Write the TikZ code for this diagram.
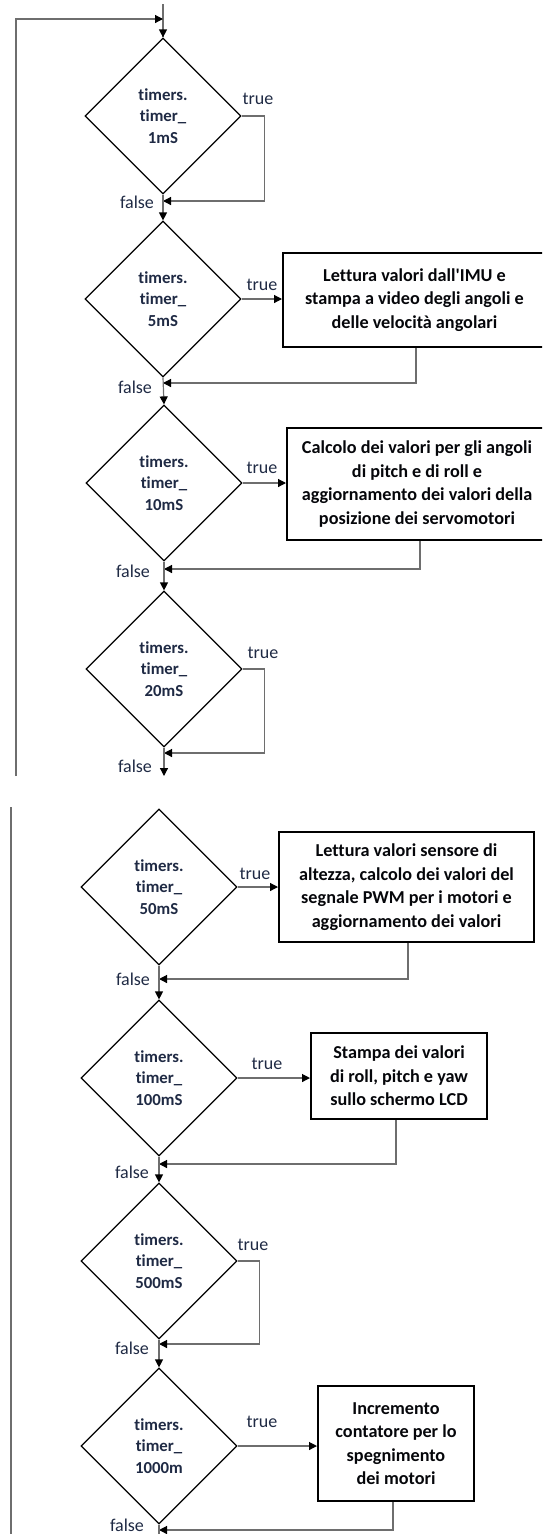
\documentclass[tikz,border=0pt]{standalone}
\usepackage{fontspec}
\setmainfont{Carlito}[Ligatures={TeXOff,CommonOff}]
\usetikzlibrary{shapes.geometric,arrows.meta}
\definecolor{txt}{HTML}{1F2A44}
\definecolor{lin}{HTML}{6E6E6E}
\tikzset{
  dec/.style={shape=diamond,draw=black,line width=1.2pt,minimum width=156pt,minimum height=156pt,inner sep=0pt,align=center,text=txt,font=\fontsize{16.8}{21.5}\selectfont\bfseries},
  act/.style={shape=rectangle,draw=black,line width=2pt,inner sep=0pt,align=center,text=black!85!txt,font=\fontsize{18.2}{23.5}\selectfont\bfseries},
  lbl/.style={inner sep=0pt,text=txt,font=\fontsize{18}{20}\selectfont},
  conn/.style={draw=lin,line width=1.2pt,-{Triangle[length=8pt,width=8pt,color=black]}},
  plain/.style={draw=lin,line width=1.2pt}
}
\begin{document}
\begin{tikzpicture}[x=1pt,y=-1pt]
\useasboundingbox (0,0) rectangle (542,1534);
\clip (0,0) rectangle (542,1534);
% ---------- top panel ----------
\node[dec] (d1) at (163,116) {timers.\\timer\_\\1mS};
\node[dec] (d2) at (163,299) {timers.\\timer\_\\5mS};
\node[dec] (d3) at (164,483) {timers.\\timer\_\\10mS};
\node[dec] (d4) at (164,669) {timers.\\timer\_\\20mS};
\node[act,minimum width=263pt,minimum height=94pt] (b1) at (414.5,300) {Lettura valori dall'IMU e\\stampa a video degli angoli e\\delle velocità angolari};
\node[act,minimum width=260pt,minimum height=112pt] (b2) at (417,484) {Calcolo dei valori per gli angoli\\di pitch e di roll e\\aggiornamento dei valori della\\posizione dei servomotori};
\coordinate (top) at (163,4);
\coordinate (j0) at (163,19);
\coordinate (L1) at (16,776);
\coordinate (j1) at (163,201);
\coordinate (j2) at (163,383);
\coordinate (j3) at (164,569);
\coordinate (j4) at (164,753);
\coordinate (e1) at (164,776);
\coordinate (x1) at (416,0);
\coordinate (x2) at (420,0);
\draw[plain] (top) -- (d1.north);
\draw[conn] (j0) -- (d1.north);
\draw[conn] (L1) |- (j0);
\draw[conn] (d1.east) -- ++(23,0) |- (j1);
\draw[conn] (d1.south) -- (d2.north);
\draw[conn] (d2.east) -- (d2.east -| b1.west);
\draw[conn] (b1.south -| x1) |- (j2);
\draw[conn] (d2.south) -- (d3.north);
\draw[conn] (d3.east) -- (d3.east -| b2.west);
\draw[conn] (b2.south -| x2) |- (j3);
\draw[conn] (d3.south) -- (d4.north);
\draw[conn] (d4.east) -- ++(22,0) |- (j4);
\draw[conn] (d4.south) -- (e1);
\node[lbl] (t1) at (258,99) {true};
\node[lbl] (t2) at (262,285) {true};
\node[lbl] (t3) at (262,468) {true};
\node[lbl] (t4) at (263,653) {true};
\node[lbl] (f1) at (137,202) {false};
\node[lbl] (f2) at (135,387) {false};
\node[lbl] (f3) at (133,571) {false};
\node[lbl] (f4) at (135,766) {false};
% ---------- bottom panel ----------
\node[dec] (d5) at (159,887) {timers.\\timer\_\\50mS};
\node[dec] (d6) at (159,1078) {timers.\\timer\_\\100mS};
\node[dec] (d7) at (159,1261) {timers.\\timer\_\\500mS};
\node[dec] (d8) at (159,1446) {timers.\\timer\_\\1000m};
\node[act,minimum width=255pt,minimum height=110pt] (b3) at (406.5,887) {Lettura valori sensore di\\altezza, calcolo dei valori del\\segnale PWM per i motori e\\aggiornamento dei valori};
\node[act,minimum width=176pt,minimum height=86pt] (b4) at (399,1076) {Stampa dei valori\\di roll, pitch e yaw\\sullo schermo LCD};
\node[act,minimum width=156pt,minimum height=115pt] (b5) at (396,1443.5) {Incremento\\contatore per lo\\spegnimento\\dei motori};
\coordinate (L2a) at (11,807);
\coordinate (L2b) at (11,1534);
\coordinate (j5) at (159,979);
\coordinate (j6) at (159,1164);
\coordinate (j7) at (159,1344);
\coordinate (j8) at (159,1530);
\coordinate (e2) at (159,1534);
\coordinate (x3) at (408,0);
\coordinate (x4) at (396,0);
\coordinate (x5) at (393,0);
\draw[plain] (L2a) -- (L2b);
\draw[conn] (d5.east) -- (d5.east -| b3.west);
\draw[conn] (b3.south -| x3) |- (j5);
\draw[conn] (d5.south) -- (d6.north);
\draw[conn] (d6.east) -- (d6.east -| b4.west);
\draw[conn] (b4.south -| x4) |- (j6);
\draw[conn] (d6.south) -- (d7.north);
\draw[conn] (d7.east) -- ++(22,0) |- (j7);
\draw[conn] (d7.south) -- (d8.north);
\draw[conn] (d8.east) -- (d8.east -| b5.west);
\draw[conn] (b5.south -| x5) |- (j8);
\draw[plain] (d8.south) -- (e2);
\node[lbl] (t5) at (255,874) {true};
\node[lbl] (t6) at (267,1064) {true};
\node[lbl] (t7) at (253,1245) {true};
\node[lbl] (t8) at (262,1422) {true};
\node[lbl] (f5) at (133,979) {false};
\node[lbl] (f6) at (132,1172) {false};
\node[lbl] (f7) at (132,1348) {false};
\node[lbl] (f8) at (127,1525) {false};
\end{tikzpicture}
\end{document}
